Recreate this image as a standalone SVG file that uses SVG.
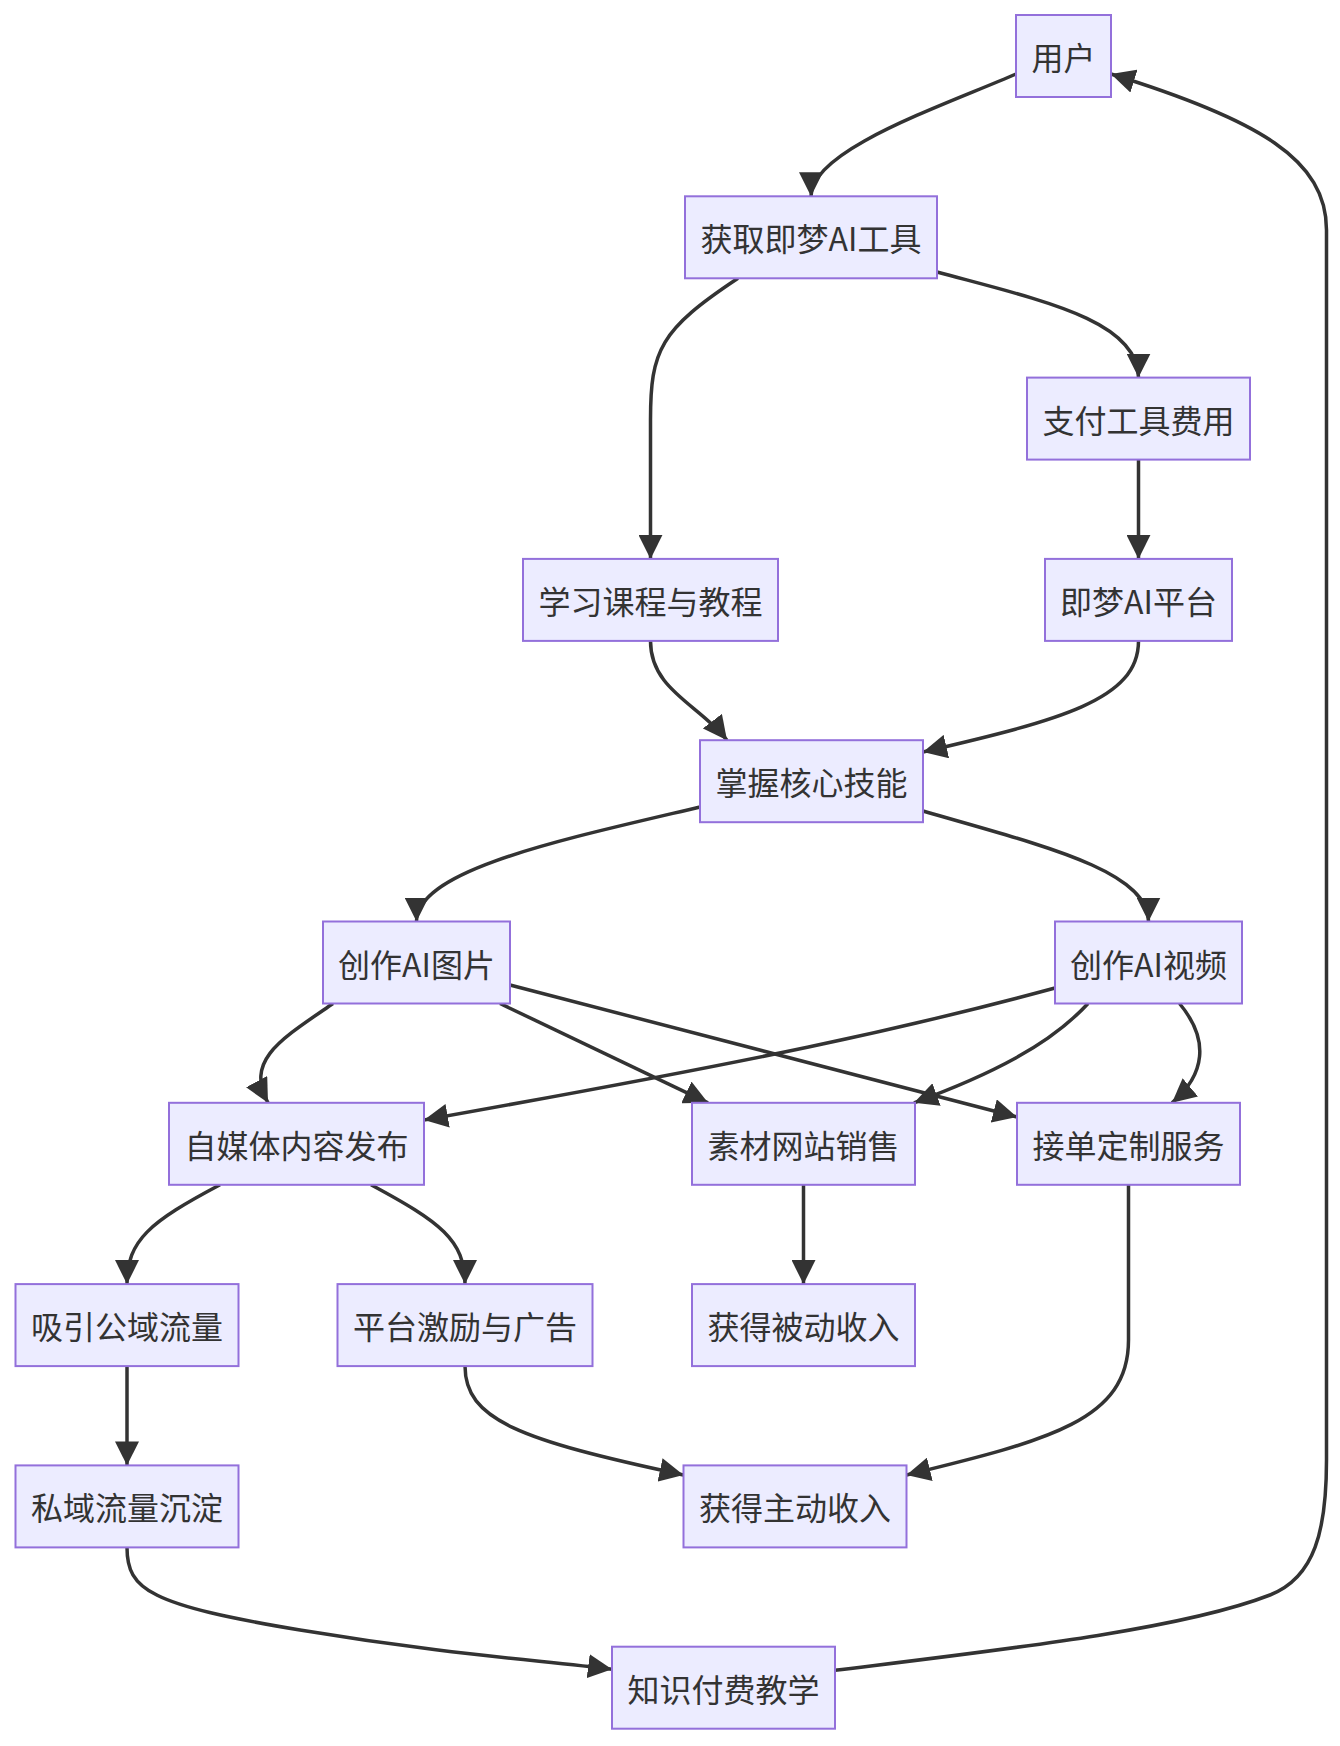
<svg xmlns="http://www.w3.org/2000/svg" width="1340" height="1746" viewBox="0 0 1340 1746">
<style>
.node rect{fill:#ECECFF;stroke:#9370DB;stroke-width:2}
.node text{font-family:"Noto Sans CJK SC","Noto Sans",sans-serif;font-size:32px;fill:#333333;text-anchor:middle;dominant-baseline:central}
.edge{fill:none;stroke:#333333;stroke-width:3.5;marker-end:url(#arrow)}
</style>
<defs>
<marker id="arrow" viewBox="0 0 10 10" refX="10" refY="5" markerUnits="userSpaceOnUse" markerWidth="24" markerHeight="24" orient="auto">
<path d="M0,0 L10,5 L0,10 z" fill="#333333"/>
</marker>
</defs>
<rect x="0" y="0" width="1340" height="1746" fill="#ffffff"/>
<g id="edges">
<path class="edge" d="M1016,74 C940,107 811,150 811,196.3"/>
<path class="edge" d="M738,278.3 C660,330 650.5,350 650.5,420 L650.5,558.9"/>
<path class="edge" d="M937,272 C1040,300 1138.5,320 1138.5,377.6"/>
<path class="edge" d="M1138.5,459.6 L1138.5,558.9"/>
<path class="edge" d="M650.5,640.9 C650.5,690 700,705 727,740.2"/>
<path class="edge" d="M1138.5,640.9 C1138.5,700 1060,720 923,752"/>
<path class="edge" d="M700,807 C560,840 416.5,870 416.5,921.5"/>
<path class="edge" d="M923,811 C1040,845 1148.5,870 1148.5,921.5"/>
<path class="edge" d="M333,1003.5 C280,1040 245,1060 268,1102.8"/>
<path class="edge" d="M500,1003.5 L708,1102.8"/>
<path class="edge" d="M510,985 L1017,1117"/>
<path class="edge" d="M1055,988 C900,1030 760,1060 424,1120"/>
<path class="edge" d="M1088,1003.5 C1050,1045 990,1075 914,1102.8"/>
<path class="edge" d="M1179.5,1003.5 C1210,1040 1205,1075 1172,1102.8"/>
<path class="edge" d="M220,1184.8 C150,1222 127,1240 127,1284.1"/>
<path class="edge" d="M371,1184.8 C440,1222 465,1240 465,1284.1"/>
<path class="edge" d="M803.5,1184.8 L803.5,1284.1"/>
<path class="edge" d="M1128.5,1184.8 L1128.5,1340 C1128.5,1420 1050,1440 906.5,1475"/>
<path class="edge" d="M465,1366.1 C465,1420 520,1440 683.5,1475"/>
<path class="edge" d="M127,1366.1 L127,1465.4"/>
<path class="edge" d="M127,1547.4 C127,1590 150,1605 300,1630 S540,1660 612,1669.3"/>
<path class="edge" d="M835,1670.3 C1000,1650 1180,1630 1270,1595 C1315,1577.5 1326.5,1530 1326.5,1460 L1326.5,230 C1326.5,160 1260,120 1111,74"/>
</g>
<g id="n-user" class="node"><rect x="1016" y="15" width="95" height="82"/><text x="1063.5" y="56">用户</text></g>
<g id="n-get" class="node"><rect x="685" y="196.3" width="252" height="82"/><text x="811" y="237.3">获取即梦AI工具</text></g>
<g id="n-pay" class="node"><rect x="1027" y="377.6" width="223" height="82"/><text x="1138.5" y="418.6">支付工具费用</text></g>
<g id="n-learn" class="node"><rect x="523" y="558.9" width="255" height="82"/><text x="650.5" y="599.9">学习课程与教程</text></g>
<g id="n-platform" class="node"><rect x="1045" y="558.9" width="187" height="82"/><text x="1138.5" y="599.9">即梦AI平台</text></g>
<g id="n-skill" class="node"><rect x="700" y="740.2" width="223" height="82"/><text x="811.5" y="781.2">掌握核心技能</text></g>
<g id="n-image" class="node"><rect x="323" y="921.5" width="187" height="82"/><text x="416.5" y="962.5">创作AI图片</text></g>
<g id="n-video" class="node"><rect x="1055" y="921.5" width="187" height="82"/><text x="1148.5" y="962.5">创作AI视频</text></g>
<g id="n-media" class="node"><rect x="169" y="1102.8" width="255" height="82"/><text x="296.5" y="1143.8">自媒体内容发布</text></g>
<g id="n-stock" class="node"><rect x="692" y="1102.8" width="223" height="82"/><text x="803.5" y="1143.8">素材网站销售</text></g>
<g id="n-custom" class="node"><rect x="1017" y="1102.8" width="223" height="82"/><text x="1128.5" y="1143.8">接单定制服务</text></g>
<g id="n-public" class="node"><rect x="15.5" y="1284.1" width="223" height="82"/><text x="127" y="1325.1">吸引公域流量</text></g>
<g id="n-ads" class="node"><rect x="337.5" y="1284.1" width="255" height="82"/><text x="465" y="1325.1">平台激励与广告</text></g>
<g id="n-passive" class="node"><rect x="692" y="1284.1" width="223" height="82"/><text x="803.5" y="1325.1">获得被动收入</text></g>
<g id="n-private" class="node"><rect x="15.5" y="1465.4" width="223" height="82"/><text x="127" y="1506.4">私域流量沉淀</text></g>
<g id="n-active" class="node"><rect x="683.5" y="1465.4" width="223" height="82"/><text x="795" y="1506.4">获得主动收入</text></g>
<g id="n-teach" class="node"><rect x="612" y="1646.7" width="223" height="82"/><text x="723.5" y="1687.7">知识付费教学</text></g>
</svg>
